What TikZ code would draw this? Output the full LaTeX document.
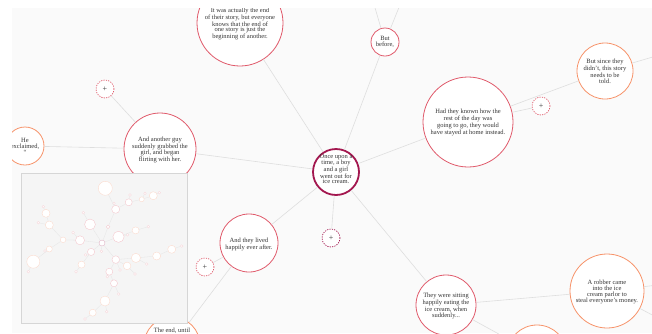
\documentclass[tikz,border=0pt]{standalone}
\usepackage{fontspec}
\setmainfont{Liberation Serif}
\usepackage{xcolor}
\usepackage{tikz}

\definecolor{panel}{HTML}{FAFAFA}
\definecolor{rootred}{HTML}{A3174F}
\definecolor{midred}{HTML}{E05A6B}
\definecolor{leaforange}{HTML}{F7936A}
\definecolor{edgegray}{HTML}{DEDEDE}
\definecolor{inkgray}{HTML}{333333}
\definecolor{mapfill}{HTML}{F5F5F5}
\definecolor{mapline}{HTML}{D6D6D6}

\begin{document}
\begin{tikzpicture}[x=1pt, y=-1pt,
    story/.style={circle, draw=#1, line width=0.8pt, fill=white, inner sep=0pt},
    storytext/.style={font=\fontsize{6.5}{5.9}\selectfont, text=inkgray, align=center, inner sep=0pt},
    addbtn/.style={circle, draw=#1, dash pattern=on 1.2pt off 1.2pt, line width=0.7pt, fill=white, minimum size=18pt, inner sep=0pt, font=\fontsize{8}{8}\selectfont, text=inkgray},
    link/.style={draw=edgegray, line width=0.6pt},
    minimap/.style={draw=mapline, line width=1.4pt, fill=mapfill},
    mini/.style={circle, draw=#1, line width=0.35pt, fill=white, inner sep=0pt},
    minilink/.style={draw=edgegray!80, line width=0.3pt},
]
    \useasboundingbox (0,0) rectangle (652,333);
    \fill[white] (0,0) rectangle (652,333);
    \fill[panel] (12,8) rectangle (652,333);

    \begin{scope}
    \clip (12,8) rectangle (652,333);

    % root story
    \node[story=rootred, line width=1.8pt, minimum size=46pt] (once) at (336,172) {};
    \node[storytext] (once-t) at (336,169) {Once upon a\\time, a boy\\and a girl\\went out for\\ice cream.};

    % branches
    \node[story=midred, minimum size=86pt] (itwas) at (240,23) {};
    \node[storytext] (itwas-t) at (240,24) {It was actually the end\\of their story, but everyone\\knows that the end of\\one story is just the\\beginning of another.};
    \node[story=midred, minimum size=28pt] (before) at (385,42) {};
    \node[storytext] (before-t) at (385,42) {But\\before,};
    \node[story=midred, minimum size=90pt] (had) at (468,122) {};
    \node[storytext] (had-t) at (468,122.5) {Had they known how the\\rest of the day was\\going to go, they would\\have stayed at home instead.};
    \node[story=leaforange, minimum size=56pt] (since) at (605,71) {};
    \node[storytext] (since-t) at (605,71.5) {But since they\\didn’t, this story\\needs to be\\told.};
    \node[story=leaforange, minimum size=38pt] (he) at (25,146) {};
    \node[storytext] (he-t) at (25,146.5) {He\\exclaimed,\\“};
    \node[story=midred, minimum size=72pt] (another) at (160,149) {};
    \node[storytext] (another-t) at (160,150) {And another guy\\suddenly grabbed the\\girl, and began\\flirting with her.};
    \node[story=midred, minimum size=58pt] (lived) at (249,243) {};
    \node[storytext] (lived-t) at (249,244) {And they lived\\happily ever after.};
    \node[story=midred, minimum size=60pt] (sitting) at (446,305) {};
    \node[storytext] (sitting-t) at (446,306) {They were sitting\\happily eating the\\ice cream, when\\suddenly...};
    \node[story=leaforange, minimum size=74pt] (robber) at (607,291) {};
    \node[storytext] (robber-t) at (607,292) {A robber came\\into the ice\\cream parlor to\\steal everyone’s money.};
    \node[story=leaforange, minimum size=56pt] (ending) at (172,345) {};
    \node[storytext, anchor=base] (ending-t) at (172,332) {The end, until};
    \node[story=leaforange, minimum size=60pt] (bottom) at (537,355) {};

    % add buttons
    \node[addbtn=midred] (pano) at (105,89) {+};
    \node[addbtn=midred] (phad) at (541,106) {+};
    \node[addbtn=midred] (plived) at (205,267) {+};
    \node[addbtn=rootred] (ponce) at (331,238) {+};

    % off screen ends
    \coordinate (offup1) at (371,-6);
    \coordinate (offup2) at (406,-10);
    \coordinate (offsince) at (680,49);
    \coordinate (offrob1) at (700,280);
    \coordinate (offrob2) at (690,335);

    % links
    \draw[link] (itwas) -- (once);
    \draw[link] (before) -- (once);
    \draw[link] (before) -- (offup1);
    \draw[link] (before) -- (offup2);
    \draw[link] (had) -- (once);
    \draw[link] (had) -- (since);
    \draw[link] (had) -- (phad);
    \draw[link] (since) -- (offsince);
    \draw[link] (he) -- (another);
    \draw[link] (another) -- (once);
    \draw[link] (pano) -- (another);
    \draw[link] (lived) -- (once);
    \draw[link] (plived) -- (lived);
    \draw[link] (lived) -- (ending);
    \draw[link] (ponce) -- (once);
    \draw[link] (sitting) -- (once);
    \draw[link] (sitting) -- (robber);
    \draw[link] (sitting) -- (bottom);
    \draw[link] (robber) -- (offrob1);
    \draw[link] (robber) -- (offrob2);

    % minimap
    \node[minimap, minimum width=166pt, minimum height=150pt, anchor=north west, inner sep=0pt] (map) at (21,173) {};
    \foreach \n/\x/\y/\r/\c in {
        0/102/243/3/rootred, 1/90/224.4/5.4/midred, 2/108.1/226.8/1.8/midred,
        3/118.5/236.8/5.6/midred, 4/135.6/230.4/3.5/leaforange, 5/63.1/239.8/2.8/leaforange,
        6/80/240.3/4.5/midred, 7/91.1/251.9/3.6/midred, 8/115.8/259.6/3.8/midred,
        9/135.9/257.9/4.6/leaforange, 10/81.5/264.6/3.5/leaforange, 11/127.1/265.9/3.8/leaforange,
        12/115.7/209.3/4/midred, 13/105.3/188.3/7/leaforange, 14/128.7/202.3/3.5/midred,
        15/141.7/199.3/2.5/leaforange, 16/153.3/195.7/4/leaforange, 17/49.3/249/3/leaforange,
        18/33.3/261.7/6.5/leaforange, 19/49.3/225/4/leaforange, 20/46/213.3/4/leaforange,
        21/156.7/256/4/leaforange, 22/171.7/249.3/4/leaforange, 23/109.3/271.7/3.5/midred,
        24/114/283.3/3.5/midred, 25/105/301/5/leaforange, 26/92.7/312.7/3.5/leaforange}
        \node[mini=\c!35, minimum size=2*\r pt] (m\n) at (\x,\y) {};
    \foreach \n/\x/\y in {
        1/73.1/232.6, 2/127.6/234.8, 3/85.6/254.9, 4/101.4/251.3, 5/114/203.3,
        6/130/195, 7/145/193.3, 8/159.3/192.7, 9/83.3/212.7, 10/148.3/226.7,
        11/45/251, 12/28.3/271.7, 13/38.3/222.7, 14/43.3/206.7, 15/181.7/246,
        16/120/270, 17/146.7/264, 18/135/274, 19/107.3/276.7, 20/118.7/294,
        21/106.7/311.7, 22/85/319, 23/76/271.7}
        \node[mini=midred!25, minimum size=2.6pt] (d\n) at (\x,\y) {};
    \foreach \a/\b in {m0/m1, m0/m2, m0/m3, m0/m6, m0/m7, m0/d4, m0/m8,
        m2/m12, m12/m13, m12/m14, m14/m15, m15/m16, m12/d5, m14/d6, m15/d7, m16/d8,
        m3/m4, m3/d2, m4/d10, m1/d9, m6/m5, m6/d1, m5/m17, m17/m18, m17/d11, m18/d12,
        m5/m19, m19/m20, m19/d13, m20/d14, m7/d3, m7/m10, m10/d23,
        m8/m9, m8/m11, m9/m21, m21/m22, m22/d15, m8/d16, m9/d17, m11/d18,
        m8/m23, m23/d19, m23/m24, m24/d20, m24/m25, m25/m26, m25/d21, m26/d22}
        \draw[minilink] (\a) -- (\b);
    \end{scope}
\end{tikzpicture}
\end{document}
